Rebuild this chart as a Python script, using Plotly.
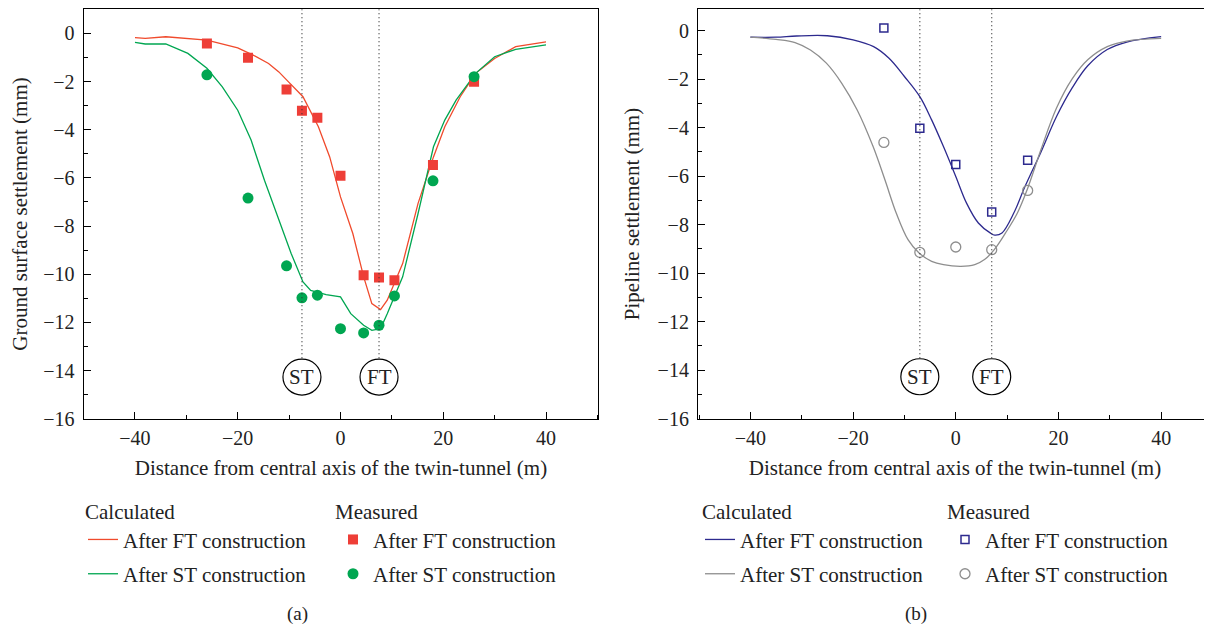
import plotly.graph_objects as go

# ---------------- (a) Ground surface settlement ----------------
a_meas_x = [-26, -18, -10.5, -7.5, -4.5, 0, 4.5, 7.5, 10.5, 18, 26]
a_meas_ft = [-0.42, -1.01, -2.33, -3.21, -3.50, -5.91, -10.04, -10.14, -10.25, -5.47, -2.01]
a_meas_st = [-1.72, -6.84, -9.65, -10.98, -10.87, -12.26, -12.44, -12.12, -10.90, -6.12, -1.80]

a_calc_ft_x = [-40, -38, -34, -26, -20, -17, -14, -12, -10.4, -7.3, -4.3, -2.1, 0, 2.4, 4.5,
               6.1, 7.8, 9.1, 12.1, 15.1, 18.1, 20.3, 23.3, 26.3, 30, 34.1, 40]
a_calc_ft_y = [-0.18, -0.21, -0.14, -0.28, -0.6, -0.9, -1.25, -1.6, -1.95, -2.63, -3.88, -5.13,
               -6.79, -8.31, -10.1, -11.22, -11.47, -11.08, -9.56, -7.06, -5.13, -3.88, -2.63,
               -1.66, -1.04, -0.55, -0.35]

a_calc_st_x = [-40, -38, -34, -29.7, -26, -23, -20, -17.4, -14.8, -12.5, -9.6, -7.3, -5.8, -2.8,
               0, 2.0, 4.5, 6.1, 7.8, 9.1, 12.1, 15.1, 18.1, 20.3, 22.5, 26.3, 30, 34.1, 40]
a_calc_st_y = [-0.37, -0.44, -0.44, -0.83, -1.45, -2.22, -3.19, -4.43, -6.10, -7.48, -9.14, -10.32,
               -10.67, -10.85, -10.94, -11.64, -12.12, -12.33, -12.26, -11.64, -10.11, -7.48, -4.71,
               -3.6, -2.77, -1.66, -0.97, -0.66, -0.48]

a_tunnels_x = [-7.5, 7.5]

# ---------------- (b) Pipeline settlement ----------------
b_meas_x = [-14, -7, 0, 7, 14]
b_meas_ft = [0.11, -4.02, -5.52, -7.48, -5.34]
b_meas_st = [-4.61, -9.14, -8.92, -9.03, -6.59]

b_calc_x = [-40, -35, -31, -25, -20, -16, -13, -10, -7, -4.7, -2.4, 0, 2.1, 4.4, 6.7, 7.6, 9,
            11.3, 13.5, 16.6, 19.6, 22.7, 25.7, 29.5, 33.3, 40]
b_calc_ft = [-0.27, -0.27, -0.22, -0.21, -0.38, -0.66, -1.14, -1.89, -2.72, -3.68, -4.78, -6.01,
             -7.11, -7.93, -8.34, -8.43, -8.34, -7.52, -6.42, -5.0, -3.55, -2.35, -1.45, -0.78,
             -0.47, -0.25]

b_calc_st_x = [-40, -35, -31.3, -28.3, -25.2, -22.2, -19.2, -16.1, -13.8, -11.6, -9.3, -7.15,
               -4.7, -2.4, 1.0, 3.7, 5.6, 7.5, 9.7, 12.0, 13.9, 16.6, 19.6, 22.7, 25.7, 29.5, 33.3, 40]
b_calc_st = [-0.27, -0.36, -0.49, -0.80, -1.34, -2.17, -3.27, -4.78, -6.15, -7.52, -8.62, -9.17,
             -9.51, -9.65, -9.72, -9.65, -9.44, -9.03, -8.34, -7.52, -6.56, -4.9, -3.2, -1.98,
             -1.2, -0.66, -0.43, -0.32]

b_tunnels_x = [-7, 7]
tunnel_labels = ["ST", "FT"]
circle_y = -14.27
dotted_bottom = -13.5

x_ticks = [-40, -20, 0, 20, 40]
y_ticks = list(range(-16, 1, 2))

RED_LINE = "#F04A2C"
RED_MARK = "#EE3E37"
GREEN = "#00A651"
BLUE = "#2D2A8E"
GREY = "#8E8E8E"
FONT = "Liberation Serif"
TXT = "#222222"
FS = 21
TFS = 20

# page has an 8px body margin; figure is sized to fill the rest of the window
OFF = 8
W, H = 1212 - OFF, 626 - OFF


def xp(px):
    return (px - OFF) / W


def yp(py):
    return 1 - (py - OFF) / H


fig = go.Figure()

# (a) traces
fig.add_trace(go.Scatter(x=a_calc_ft_x, y=a_calc_ft_y, mode="lines", line=dict(color=RED_LINE, width=1.3),
                         name="After FT construction", legend="legend", legendgroup="a1"))
fig.add_trace(go.Scatter(x=a_calc_st_x, y=a_calc_st_y, mode="lines", line=dict(color=GREEN, width=1.3),
                         name="After ST construction", legend="legend", legendgroup="a2"))
fig.add_trace(go.Scatter(x=a_meas_x, y=a_meas_ft, mode="markers",
                         marker=dict(symbol="square", size=10, color=RED_MARK),
                         name="After FT construction", legend="legend2", legendgroup="a3"))
fig.add_trace(go.Scatter(x=a_meas_x, y=a_meas_st, mode="markers",
                         marker=dict(symbol="circle", size=11, color=GREEN),
                         name="After ST construction", legend="legend2", legendgroup="a4"))

# (b) traces
fig.add_trace(go.Scatter(x=b_calc_x, y=b_calc_ft, mode="lines", xaxis="x2", yaxis="y2",
                         line=dict(color=BLUE, width=1.3, shape="spline", smoothing=1.0),
                         name="After FT construction", legend="legend3", legendgroup="b1"))
fig.add_trace(go.Scatter(x=b_calc_st_x, y=b_calc_st, mode="lines", xaxis="x2", yaxis="y2",
                         line=dict(color=GREY, width=1.3, shape="spline", smoothing=1.0),
                         name="After ST construction", legend="legend3", legendgroup="b2"))
fig.add_trace(go.Scatter(x=b_meas_x, y=b_meas_ft, mode="markers", xaxis="x2", yaxis="y2",
                         marker=dict(symbol="square-open", size=8, color=BLUE, line=dict(width=1.5)),
                         name="After FT construction", legend="legend4", legendgroup="b3"))
fig.add_trace(go.Scatter(x=b_meas_x, y=b_meas_st, mode="markers", xaxis="x2", yaxis="y2",
                         marker=dict(symbol="circle-open", size=10, color=GREY, line=dict(width=1.3)),
                         name="After ST construction", legend="legend4", legendgroup="b4"))

shapes = []
annotations = []
for xr, yr, tx in (("x", "y", a_tunnels_x), ("x2", "y2", b_tunnels_x)):
    ytop = 1 if yr == "y" else 0.88
    for xv, lab in zip(tx, tunnel_labels):
        shapes.append(dict(type="line", xref=xr, yref=yr, x0=xv, x1=xv, y0=ytop, y1=dotted_bottom,
                           line=dict(color="#333333", width=1.2, dash="1px,3px")))
        shapes.append(dict(type="circle", xref=xr, yref=yr, xsizemode="pixel", ysizemode="pixel",
                           xanchor=xv, yanchor=circle_y, x0=-19, x1=19, y0=-18, y1=18,
                           line=dict(color="black", width=1.2)))
        annotations.append(dict(x=xv, y=circle_y, xref=xr, yref=yr, text=lab, showarrow=False,
                                xanchor="center", yanchor="middle",
                                font=dict(family=FONT, size=FS, color=TXT)))

for lab, cx in (("(a)", 297), ("(b)", 916)):
    annotations.append(dict(x=xp(cx), y=yp(614), xref="paper", yref="paper", text=lab,
                            xanchor="center", yanchor="middle", showarrow=False,
                            font=dict(family=FONT, size=19, color=TXT)))

axis_common = dict(showline=True, linecolor="black", linewidth=1.2, mirror=True, ticks="inside",
                   ticklen=7, tickwidth=1.2, tickcolor="black", showgrid=False, zeroline=False,
                   automargin=False, tickfont=dict(family=FONT, size=TFS, color=TXT))

xcommon = dict(axis_common, tickvals=x_ticks, ticklabelstandoff=1,
               minor=dict(ticks="inside", ticklen=4, dtick=10, tick0=0, tickcolor="black", tickwidth=1.2))
ycommon = dict(axis_common, tickvals=y_ticks, ticklabelstandoff=4,
               minor=dict(ticks="inside", ticklen=4, dtick=1, tick0=0, tickcolor="black", tickwidth=1.2))

xtitle = "Distance from central axis of the twin-tunnel (m)"
ydom = [yp(418.7), yp(9.3)]

legend_common = dict(font=dict(family=FONT, size=FS, color=TXT), orientation="v",
                     xanchor="left", yanchor="top", tracegroupgap=4, bgcolor="rgba(0,0,0,0)",
                     itemclick=False)
ly = yp(492)

fig.update_layout(
    width=W, height=H, margin=dict(l=0, r=0, t=0, b=0, autoexpand=False),
    paper_bgcolor="white", plot_bgcolor="white",
    font=dict(family=FONT, color=TXT),
    xaxis=dict(xcommon, domain=[xp(83.6), xp(598.4)], range=[-50, 50.2], anchor="y",
               title=dict(text=xtitle, font=dict(family=FONT, size=FS), standoff=12)),
    yaxis=dict(ycommon, domain=ydom, range=[-16, 1], anchor="x",
               title=dict(text="Ground surface settlement (mm)", font=dict(family=FONT, size=FS), standoff=12)),
    xaxis2=dict(xcommon, domain=[xp(698), 1.0], range=[-50.2, 49.9], anchor="y2",
                title=dict(text=xtitle, font=dict(family=FONT, size=FS), standoff=12)),
    yaxis2=dict(ycommon, domain=ydom, range=[-16, 0.88], anchor="x2", mirror=False,
                title=dict(text="Pipeline settlement (mm)", font=dict(family=FONT, size=FS), standoff=12)),
    legend=dict(legend_common, x=xp(83), y=ly,
                title=dict(text="Calculated", side="top", font=dict(family=FONT, size=FS))),
    legend2=dict(legend_common, x=xp(333), y=ly,
                 title=dict(text="Measured", side="top", font=dict(family=FONT, size=FS))),
    legend3=dict(legend_common, x=xp(700), y=ly,
                 title=dict(text="Calculated", side="top", font=dict(family=FONT, size=FS))),
    legend4=dict(legend_common, x=xp(945), y=ly,
                 title=dict(text="Measured", side="top", font=dict(family=FONT, size=FS))),
    shapes=shapes, annotations=annotations,
)

fig.write_html("out.html")
